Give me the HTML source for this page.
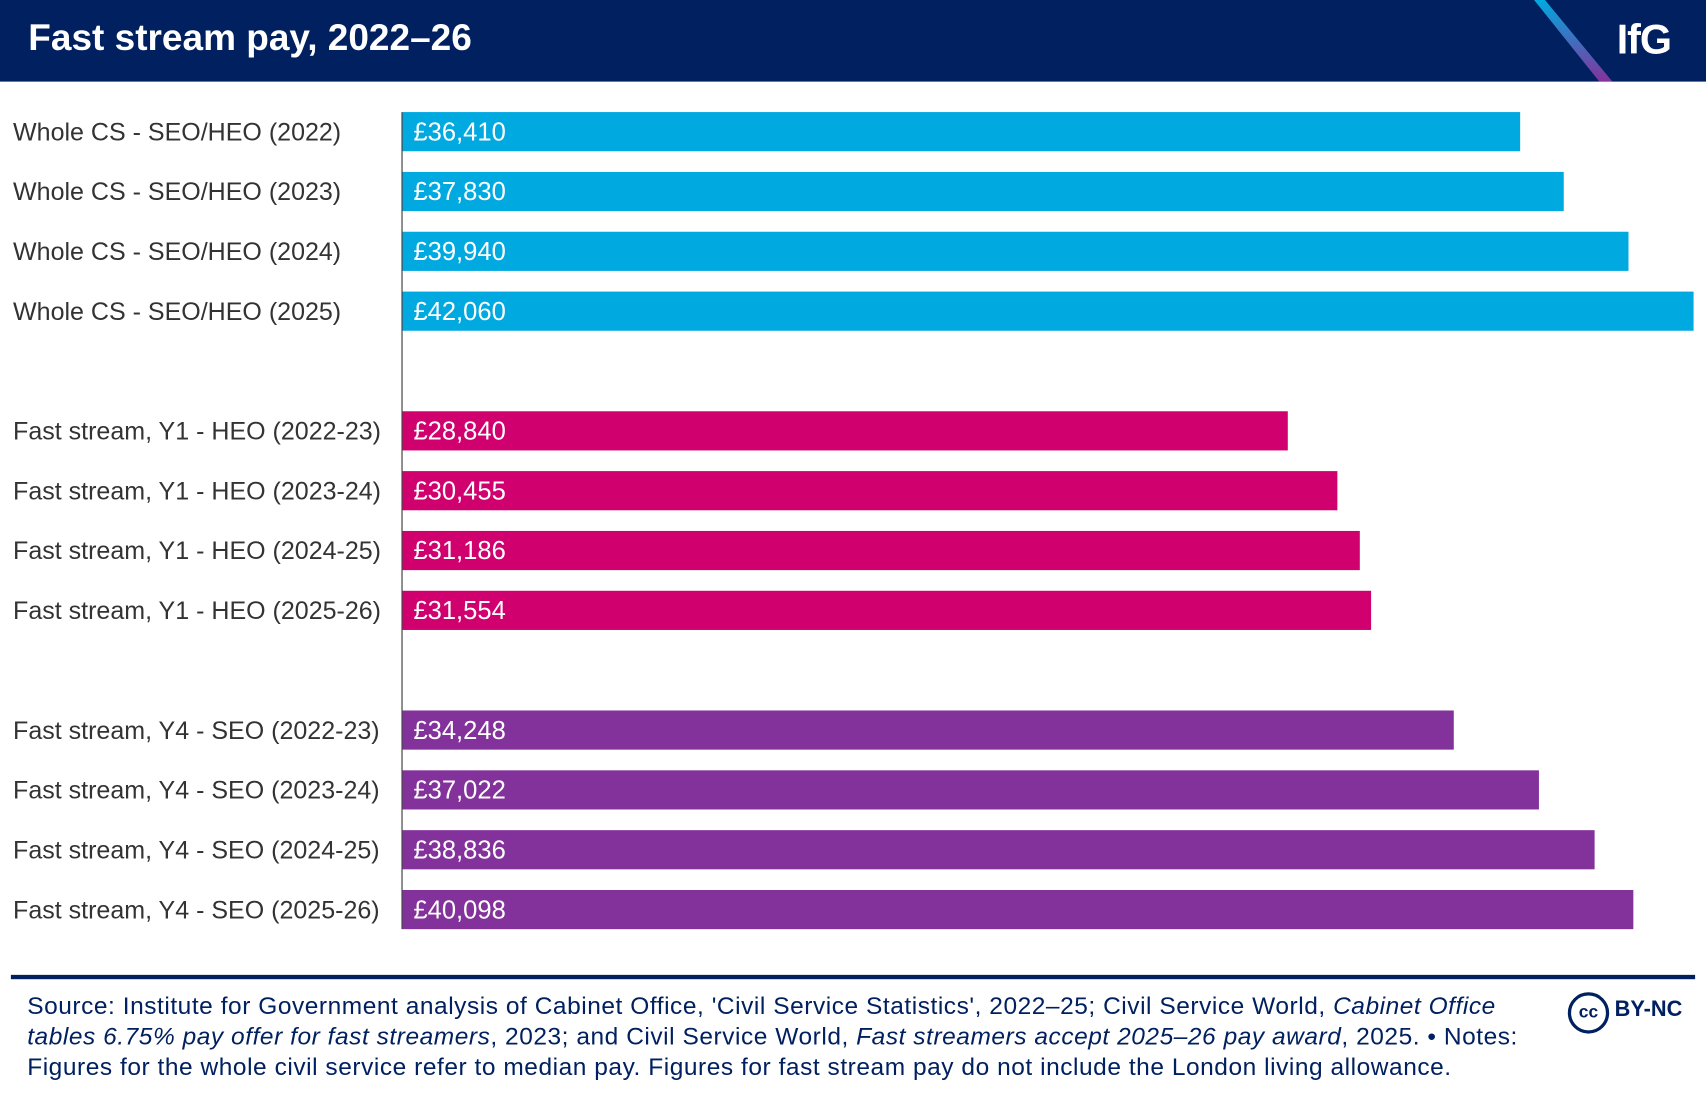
<!DOCTYPE html>
<html><head><meta charset="utf-8">
<style>
html,body{margin:0;padding:0;background:#fff;overflow:hidden}
body{width:1706px;height:1096px}
#wrap{width:1568px;height:1007px;transform:scale(1.08801);transform-origin:0 0;position:relative;font-family:"Liberation Sans",sans-serif}
.hdr{position:absolute;left:0;top:0;width:1568px;height:75px;background:#002060;overflow:hidden}
.title{position:absolute;left:26px;top:16px;color:#fff;font-weight:bold;font-size:34px;letter-spacing:0px}
.logo{position:absolute;left:1486px;top:16px;color:#fff;font-weight:bold;font-size:38px;letter-spacing:-1px}
.src{position:absolute;left:25px;top:911px;color:#002060;font-size:22.5px;line-height:28px;letter-spacing:0.5px;white-space:nowrap}
</style></head>
<body>
<div id="wrap">
<div class="hdr">
<svg width="1568" height="75" style="position:absolute;left:0;top:0">
<defs><linearGradient id="g" x1="0" y1="0" x2="0" y2="1"><stop offset="0" stop-color="#00A9E0"/><stop offset="1" stop-color="#84329B"/></linearGradient></defs>
<polygon points="1410,0 1420,0 1482,75 1470,75" fill="url(#g)"/>
</svg>
<div class="title">Fast stream pay, 2022–26</div>
<div class="logo">IfG</div>
</div>
<svg id="chart" width="1568" height="1007" style="position:absolute;left:0;top:0"></svg>
<div style="position:absolute;left:10px;top:896px;width:1548px;height:4px;background:#002060"></div>
<div class="src">Source: Institute for Government analysis of Cabinet Office, 'Civil Service Statistics', 2022–25; Civil Service World, <i>Cabinet Office</i><br><i>tables 6.75% pay offer for fast streamers</i>, 2023; and Civil Service World, <i>Fast streamers accept 2025–26 pay award</i>, 2025. • Notes:<br>Figures for the whole civil service refer to median pay. Figures for fast stream pay do not include the London living allowance.</div>
<div style="position:absolute;left:1441px;top:912px;width:32px;height:32px;border:3px solid #002060;border-radius:50%;color:#002060;font-weight:bold;font-size:16px;line-height:32px;text-align:center">cc</div>
<div style="position:absolute;left:1484px;top:917px;color:#002060;font-weight:bold;font-size:20px">BY-NC</div>
</div>
<script>
const categories=["Whole CS - SEO/HEO (2022)","Whole CS - SEO/HEO (2023)","Whole CS - SEO/HEO (2024)","Whole CS - SEO/HEO (2025)","","Fast stream, Y1 - HEO (2022-23)","Fast stream, Y1 - HEO (2023-24)","Fast stream, Y1 - HEO (2024-25)","Fast stream, Y1 - HEO (2025-26)","","Fast stream, Y4 - SEO (2022-23)","Fast stream, Y4 - SEO (2023-24)","Fast stream, Y4 - SEO (2024-25)","Fast stream, Y4 - SEO (2025-26)"];
const values=[36410,37830,39940,42060,null,28840,30455,31186,31554,null,34248,37022,38836,40098];
const groups=[0,0,0,0,-1,1,1,1,1,-1,2,2,2,2];
const groupColors=["#00A9E0","#D1006F","#84329B"];
const NS="http://www.w3.org/2000/svg";
const svg=document.getElementById('chart');
const x0=370,xMax=42075,pw=1187;
const xs=v=>x0+v/xMax*pw;
const yTop=103,step=55,bh=36;
const yc=i=>yTop+i*step+bh/2;
categories.forEach((c,i)=>{
 if(values[i]==null)return;
 const r=document.createElementNS(NS,'rect');
 r.setAttribute('x',x0);r.setAttribute('y',yc(i)-bh/2);
 r.setAttribute('width',xs(values[i])-x0);r.setAttribute('height',bh);
 r.setAttribute('fill',groupColors[groups[i]]);
 
 
 svg.appendChild(r);
 const t=document.createElementNS(NS,'text');
 t.setAttribute('x',x0+10);t.setAttribute('y',yc(i)+8);
 t.setAttribute('fill','#fff');t.setAttribute('font-size','23.5');
 t.setAttribute('font-family','Liberation Sans, sans-serif');
 t.textContent='£'+values[i].toLocaleString('en-GB');
 
 
 svg.appendChild(t);
 const l=document.createElementNS(NS,'text');
 l.setAttribute('x',12);l.setAttribute('y',yc(i)+8);
 l.setAttribute('fill','#333');l.setAttribute('font-size','23');
 l.setAttribute('font-family','Liberation Sans, sans-serif');
 l.textContent=c;
 
 
 svg.appendChild(l);
});
const ax=document.createElementNS(NS,'line');
ax.setAttribute('x1',369.5);ax.setAttribute('x2',369.5);
ax.setAttribute('y1',yTop);ax.setAttribute('y2',yc(13)+bh/2);
ax.setAttribute('stroke','#333');ax.setAttribute('stroke-width','1');


svg.appendChild(ax);
</script>
</body></html>
